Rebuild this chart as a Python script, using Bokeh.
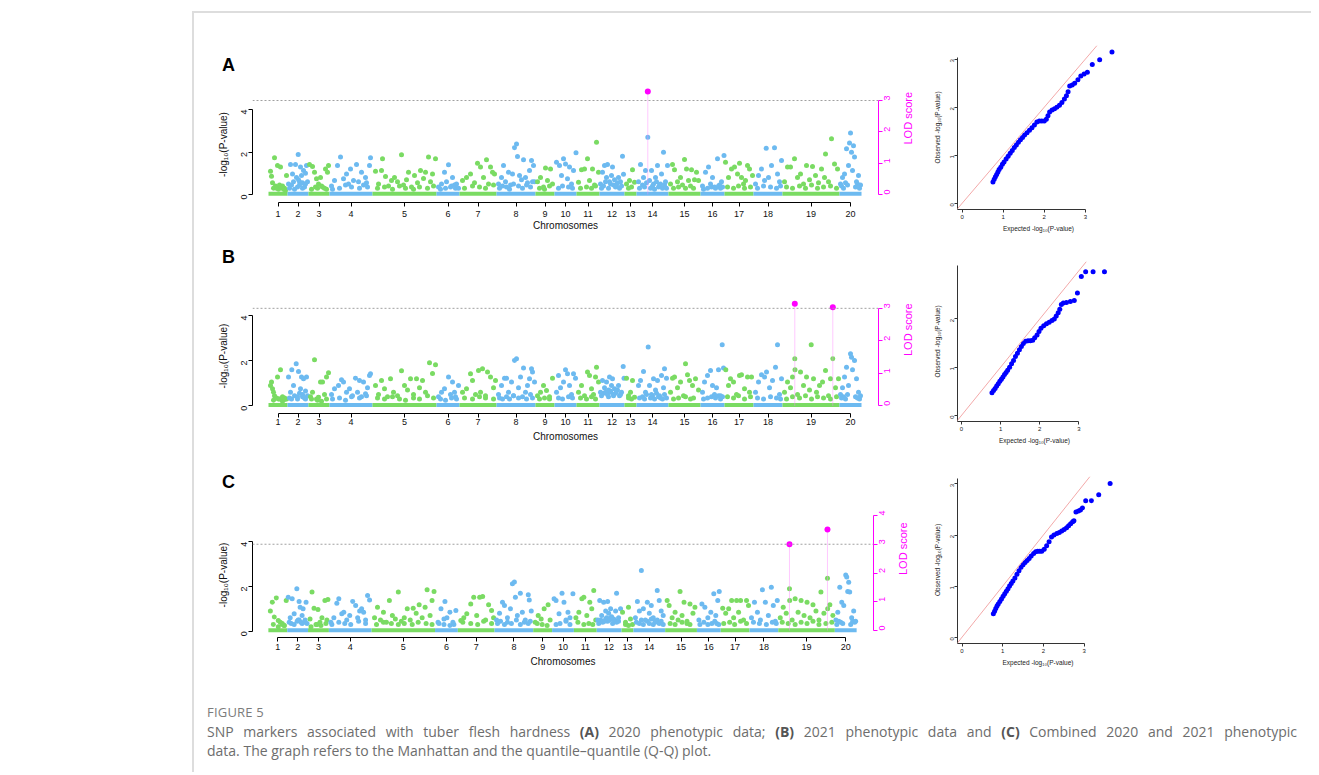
import math
from bokeh.plotting import figure
from bokeh.models import Range1d, LinearAxis, FixedTicker, Span, Slope, Div
from bokeh.layouts import row, column
from bokeh.embed import file_html
from bokeh.resources import INLINE

# ---------------- data ----------------
CHROMOSOMES = [str(i) for i in range(1, 21)]
CHR_LEN = [19, 21, 21, 43, 64, 23, 37, 39, 19, 22, 23, 25, 12, 32, 32, 24, 29, 29, 57, 22]
BAND_VAL = 0.04          # dense cloud of SNPs with -log10(P) ~ 0
THRESHOLD_LOD = 3.0

A_POS = [
    [2, 3, 4, 6, 7, 8, 9, 11, 12, 13, 15, 17, 18],
    [1, 3, 5, 6, 8, 9, 10.7, 11, 12, 13, 14, 15, 16, 17, 18, 19, 20],
    [1, 4, 6, 7, 8, 10, 12, 14, 16, 17, 19, 20],
    [2, 5, 8, 11, 14, 17, 19, 21, 24, 27, 29, 32, 34, 36, 38, 40, 41],
    [3, 6, 9, 10, 13, 16, 19, 22, 25, 29, 31, 34, 36, 39, 42, 45, 48, 51, 53, 56, 58, 60, 63],
    [2, 5, 8, 10, 12, 14, 16, 18, 20, 22],
    [3, 7, 11, 15, 18, 21, 24, 27, 29, 31, 33, 35],
    [2, 5, 7, 9, 12, 14, 16, 18, 20, 21, 23, 25, 27, 29, 31, 33, 35, 37, 38],
    [2, 5, 8, 10, 12, 15, 17],
    [2, 5, 7, 9, 11, 13, 15, 17, 19, 21.5],
    [2, 5, 8, 11, 13, 16, 18, 20, 22],
    [1, 3, 5, 7, 8, 10, 12, 13, 15, 17, 19, 21, 23, 24],
    [2, 5, 8, 10],
    [2, 4, 7, 9, 11.3, 13, 15, 17, 19, 21, 23, 25, 27, 29, 31],
    [2, 4, 6, 9, 12, 14, 16, 18, 20, 23, 26, 28, 30],
    [2, 5, 8, 10, 12, 14, 17, 19, 21, 23.5],
    [1, 4, 7, 10, 13, 15, 17, 19, 21, 23, 25, 28],
    [2, 5, 8, 11, 12.7, 15, 18, 21, 24, 26, 28],
    [2, 5, 8, 12, 15, 18, 21, 24, 27, 30, 33, 36, 39, 42, 43, 46, 49, 52, 55],
    [1, 3, 5, 7, 9, 10, 11, 12, 13, 14, 15, 17, 19, 21],
]
A_VAL = [
    [1.10, 0.86, 0.55, 1.73, 0.40, 0.30, 1.37, 0.45, 1.29, 0.35, 0.25, 0.20, 0.90],
    [0.5, 1.41, 0.97, 0.6, 1.41, 0.8, 1.88, 0.7, 0.45, 1.29, 0.9, 0.55, 1.13, 0.35, 1.0, 1.37, 0.6],
    [1.41, 1.32, 1.05, 0.35, 0.74, 0.5, 0.8, 0.35, 0.3, 1.2, 1.05, 1.37],
    [0.4, 0.66, 1.37, 1.76, 0.74, 0.97, 0.5, 1.2, 0.66, 1.41, 0.6, 1.05, 0.45, 0.8, 0.35, 1.37, 1.73],
    [1.1, 0.5, 1.13, 1.68, 0.85, 0.4, 0.66, 0.8, 0.6, 1.87, 0.45, 0.7, 1.05, 0.35, 0.9, 0.55, 1.13, 0.75, 1.05, 1.76, 0.6, 0.97, 1.68],
    [0.35, 0.5, 1.05, 0.6, 1.4, 0.35, 0.8, 0.45, 0.5, 0.3],
    [0.66, 0.8, 0.97, 0.55, 1.47, 1.29, 0.8, 1.63, 0.5, 1.29, 1.05, 0.97],
    [0.5, 0.8, 1.37, 0.6, 1.05, 0.45, 0.97, 2.2, 2.38, 1.79, 0.9, 0.7, 1.63, 0.8, 0.55, 1.13, 1.6, 1.37, 0.6],
    [0.6, 0.8, 0.35, 1.25, 0.66, 1.2, 0.5],
    [1.52, 1.37, 0.9, 1.68, 1.44, 0.74, 1.29, 0.5, 1.13, 1.96],
    [0.58, 1.16, 1.2, 1.68, 0.66, 1.2, 0.45, 2.46, 1.05],
    [0.5, 1.05, 1.37, 0.8, 1.41, 0.6, 0.9, 1.29, 0.7, 0.45, 0.8, 0.6, 1.8, 0.95],
    [0.5, 0.66, 1.16, 0.58],
    [0.6, 1.41, 0.8, 1.13, 2.7, 0.66, 1.13, 0.5, 0.8, 1.37, 0.45, 0.97, 1.99, 0.6, 1.37],
    [0.5, 1.41, 1.16, 0.6, 0.8, 0.45, 1.65, 1.2, 0.66, 1.16, 0.7, 1.05, 0.66],
    [0.4, 1.05, 1.29, 0.5, 0.8, 0.35, 1.68, 0.45, 0.6, 1.84],
    [1.52, 0.8, 1.2, 1.29, 0.97, 1.47, 0.8, 0.5, 0.66, 1.37, 1.2, 0.9],
    [0.5, 0.9, 1.2, 0.66, 2.18, 0.8, 1.37, 2.2, 0.97, 0.6, 1.6],
    [0.6, 1.29, 1.29, 1.68, 0.8, 0.97, 0.5, 1.37, 0.7, 1.32, 0.9, 0.55, 1.2, 0.8, 1.91, 0.6, 2.62, 1.44, 1.2],
    [0.5, 0.8, 0.97, 2.15, 1.37, 2.42, 2.89, 1.99, 1.13, 2.3, 1.76, 0.6, 0.9, 0.45],
]
A_SIG_CHR = [14]
A_SIG_POS = [11.3]
A_SIG_LOD = [3.29]

B_POS = [
    [2, 3, 4, 5, 6, 8, 9, 11, 12, 14, 16, 18],
    [1, 3, 4.3, 6, 8.7, 10, 11, 13, 14, 15, 16, 17, 18, 19, 20],
    [2, 4, 6, 8, 10, 12, 14, 16, 18, 20],
    [2, 5, 9, 12, 14, 17, 20, 23, 26, 28, 30, 32, 34, 36, 38, 40, 41],
    [3, 6, 9, 12, 15, 18, 21, 25, 29, 32, 35, 38, 41, 44, 47, 50, 53, 57, 60, 63],
    [2, 5, 8, 12, 14, 16, 18, 20, 22],
    [3, 7, 11, 13, 16, 19, 21, 23, 26, 28, 31, 34, 36],
    [2, 5, 8, 10, 12, 15, 17, 18, 20, 22, 24, 27, 29, 31, 33, 35, 36, 38],
    [2, 5, 8, 11, 14, 17],
    [2, 4, 6, 9, 11, 13, 15, 17, 19, 21],
    [2, 5, 8, 11, 13, 15, 17, 19, 20, 22],
    [1, 3, 5, 7, 8, 9, 10, 11, 12, 13, 14, 15, 17, 19, 21, 23.7, 24.5],
    [2, 4, 6, 8, 10],
    [2, 4, 7, 9, 11.7, 13, 15, 17, 19, 21, 23, 25, 27, 28, 30],
    [2, 4, 6, 9, 12, 15, 17, 19, 21, 24, 27, 30],
    [2, 4, 7, 10, 12, 14, 16, 18, 20, 21.7, 23],
    [1.3, 4, 6, 9, 12, 15, 17, 20, 23, 25, 27],
    [2, 5, 8, 11, 13, 16, 19, 22, 24, 26, 28],
    [2, 5, 8, 10, 12.3, 12.5, 15, 18, 21, 24, 27, 28.7, 31, 34, 37, 40, 43, 46, 48, 50.3, 53, 56],
    [1, 3, 5, 7, 9, 11, 12, 13, 15, 17, 19, 21],
]
B_VAL = [
    [0.9, 1.05, 0.75, 0.6, 0.45, 0.35, 1.27, 0.3, 1.6, 0.4, 0.28, 0.3],
    [1.27, 0.6, 1.6, 0.9, 1.86, 0.4, 1.52, 0.75, 1.27, 0.5, 1.2, 0.35, 0.65, 1.27, 0.45],
    [0.4, 0.6, 2.04, 0.3, 0.38, 1.05, 1.05, 0.5, 1.27, 1.46],
    [0.5, 0.75, 0.9, 1.15, 1.05, 0.6, 0.75, 0.45, 1.22, 0.6, 1.12, 0.4, 1.05, 0.53, 0.8, 1.34, 1.42],
    [0.9, 0.5, 1.12, 0.75, 0.4, 1.2, 0.6, 0.45, 1.55, 0.9, 0.7, 1.2, 0.5, 1.2, 0.8, 1.12, 0.6, 1.9, 1.43, 1.82],
    [0.4, 0.6, 0.75, 1.27, 0.5, 1.05, 0.6, 0.3, 0.9],
    [0.6, 0.75, 1.42, 1.12, 0.5, 1.56, 0.6, 1.64, 0.45, 1.49, 1.27, 0.8, 1.12],
    [0.5, 0.9, 1.22, 1.22, 0.6, 1.05, 0.45, 2.0, 2.08, 0.8, 1.27, 1.67, 0.6, 0.9, 1.2, 1.64, 1.49, 1.05],
    [0.45, 0.6, 0.9, 0.68, 0.4, 1.22],
    [0.6, 1.34, 0.8, 1.05, 1.6, 1.42, 0.9, 0.5, 1.42, 1.22],
    [0.6, 0.9, 0.45, 1.49, 1.34, 0.75, 0.5, 1.27, 1.71, 1.05],
    [0.6, 1.12, 0.8, 1.05, 0.5, 0.7, 1.27, 0.6, 0.9, 1.2, 0.45, 0.75, 0.65, 0.9, 0.5, 1.74, 1.22],
    [1.22, 0.45, 0.6, 1.12, 0.38],
    [0.9, 1.12, 1.52, 0.6, 2.6, 0.9, 0.5, 1.2, 0.7, 1.12, 0.45, 1.34, 0.8, 1.64, 1.22],
    [0.6, 1.22, 1.27, 0.8, 1.05, 0.45, 1.86, 1.37, 1.12, 0.9, 1.2, 0.7],
    [0.6, 1.05, 1.34, 1.56, 0.9, 0.5, 0.8, 1.6, 0.45, 2.7, 1.67],
    [1.6, 0.9, 1.2, 1.05, 0.5, 1.34, 1.37, 0.75, 1.27, 0.6, 1.27],
    [0.6, 1.05, 1.37, 1.27, 1.49, 0.8, 1.12, 1.71, 2.7, 0.5, 1.2],
    [0.6, 1.05, 0.8, 1.27, 2.08, 1.6, 0.5, 1.49, 0.9, 1.27, 0.7, 2.7, 1.2, 0.6, 0.9, 1.05, 1.56, 0.45, 1.2, 2.08, 0.8, 1.2],
    [0.5, 0.8, 1.27, 1.71, 0.9, 2.3, 2.15, 1.6, 2.0, 1.2, 0.6, 0.45],
]
B_SIG_CHR = [19, 19]
B_SIG_POS = [12.3, 50.3]
B_SIG_LOD = [3.14, 3.03]

C_POS = [
    [2, 4, 6, 8, 10, 12, 14, 16, 18],
    [1, 3, 5, 7, 9.7, 11, 12, 13, 14, 15, 16, 18, 19, 20],
    [2, 4, 6, 8, 10, 12, 14, 17, 19, 20],
    [2, 5, 8, 10, 13, 15, 18, 21, 24, 27, 29, 31, 33, 35, 37, 39, 41],
    [3, 6, 9, 12, 15, 18, 21, 24, 27, 30, 33, 36, 39, 42, 45, 48, 51, 54, 56, 59, 61, 63],
    [3, 6, 9, 10, 12, 15, 18, 21],
    [3, 6, 9, 13, 16, 19, 22, 25, 28, 31, 34, 36],
    [2, 5, 8, 10, 13, 16, 18, 20, 21, 23, 26, 28, 31, 34, 35, 37],
    [2, 5, 8, 11, 15, 17],
    [2, 4, 7, 10, 12, 14, 16, 18, 21],
    [2, 5, 8, 10, 13, 16, 18, 20, 22],
    [1, 3, 5, 7, 8, 9, 10, 11, 12, 13, 14, 15, 17, 19, 20, 22, 24],
    [1, 4, 7, 9, 11],
    [2, 4, 6, 8, 10, 12, 14, 16, 18, 20, 22, 24, 26, 28, 30],
    [2, 4, 7, 10, 13, 15, 17, 19, 22, 25, 28, 30],
    [2, 5, 8, 11, 14, 17, 19, 21, 22.5],
    [2, 5, 8, 11, 13, 16, 18, 20, 23, 26, 28],
    [2, 5, 8, 11, 13, 16, 19, 22, 24, 26, 28],
    [2, 5, 8, 11.3, 11.5, 14, 17, 20, 23, 26, 29, 32, 35, 38, 41, 43, 46, 49.6, 49.8, 52, 55],
    [1, 3, 5, 7, 9, 11, 12, 13, 14, 15, 17, 19, 21],
]
C_VAL = [
    [0.9, 1.3, 0.63, 1.48, 0.48, 0.4, 0.3, 0.25, 1.37],
    [1.52, 0.6, 1.45, 0.78, 1.9, 0.5, 1.33, 1.07, 0.4, 0.7, 1.0, 0.5, 1.3, 0.35],
    [0.55, 1.75, 1.03, 0.3, 0.97, 0.4, 0.6, 1.37, 0.5, 1.42],
    [0.4, 0.6, 1.25, 1.45, 0.78, 0.85, 0.5, 0.7, 1.33, 1.15, 0.6, 0.9, 1.0, 0.85, 0.5, 1.6, 1.4],
    [0.6, 1.07, 0.5, 0.85, 0.4, 1.37, 0.7, 0.55, 1.75, 0.45, 0.6, 1.0, 0.5, 1.03, 0.8, 1.18, 0.6, 1.07, 1.85, 0.7, 1.37, 1.78],
    [0.4, 1.0, 0.55, 1.33, 0.6, 0.85, 0.4, 0.93],
    [0.48, 0.6, 0.78, 1.22, 1.52, 0.7, 1.52, 1.55, 0.5, 1.18, 0.93, 0.6],
    [0.5, 0.8, 1.3, 1.15, 0.6, 1.0, 2.12, 2.2, 1.52, 0.7, 1.7, 0.85, 0.5, 1.63, 1.4, 0.9],
    [0.4, 0.7, 0.55, 1.0, 1.18, 0.5],
    [1.45, 1.37, 0.78, 1.7, 1.3, 0.5, 0.85, 0.6, 1.67],
    [0.6, 0.85, 1.45, 1.52, 0.7, 1.3, 1.0, 1.82, 0.5],
    [0.5, 1.37, 0.7, 1.3, 0.45, 0.9, 0.6, 1.33, 0.8, 0.5, 1.0, 0.65, 0.55, 0.9, 1.7, 0.6, 1.0],
    [0.85, 0.4, 1.07, 0.55, 0.3],
    [0.6, 1.33, 0.9, 2.72, 1.0, 0.5, 1.3, 0.8, 1.15, 0.6, 0.45, 1.82, 1.37, 0.9, 0.7],
    [1.37, 1.15, 0.6, 0.85, 0.5, 1.78, 0.7, 1.3, 0.45, 1.22, 0.8, 1.07],
    [0.5, 1.22, 1.07, 0.6, 0.85, 1.67, 0.7, 1.37, 1.78],
    [1.03, 0.8, 1.0, 1.37, 0.6, 1.37, 0.85, 1.37, 0.5, 1.37, 1.15],
    [0.6, 1.3, 0.85, 0.5, 1.85, 1.3, 0.7, 1.97, 1.15, 0.45, 1.37],
    [0.6, 1.07, 0.8, 1.9, 1.37, 0.5, 1.45, 0.85, 1.37, 0.7, 1.3, 0.6, 1.18, 0.9, 0.5, 1.75, 0.8, 2.37, 1.0, 1.18, 0.7],
    [0.5, 0.85, 1.97, 1.3, 1.15, 2.52, 2.42, 1.78, 2.19, 1.75, 0.6, 0.9, 0.45],
]
C_SIG_CHR = [19, 19]
C_SIG_POS = [11.3, 49.6]
C_SIG_LOD = [3.0, 3.51]

# low-lying SNPs (same markers in every panel), per chromosome
LOW_POS = [
    [5, 10, 14, 16],
    [2, 4, 7, 10, 12, 15, 18],
    [3, 9, 13, 18],
    [3, 10, 16, 22, 30, 37],
    [5, 12, 20, 27, 33, 41, 47, 55, 61],
    [4, 9, 15, 19],
    [5, 13, 20, 26, 34],
    [3, 6, 10, 13, 17, 22, 26, 30, 34, 36],
    [4, 9, 14],
    [4, 8, 14, 18],
    [4, 10, 15, 19],
    [2, 4, 6, 9, 11, 14, 16, 18, 20, 22],
    [4, 7],
    [3, 6, 8, 10, 14, 16, 18, 20, 22, 24, 26, 28, 30],
    [5, 10, 17, 22, 25],
    [3, 7, 11, 15, 18, 20, 22],
    [3, 9, 14, 20, 26],
    [4, 10, 17, 23, 27],
    [4, 10, 17, 23, 29, 35, 41, 48, 54],
    [2, 4, 6, 8, 16, 18, 20],
]
A_LOW_VAL = [
    [0.3, 0.25, 0.4, 0.3],
    [0.3, 0.45, 0.25, 0.35, 0.6, 0.3, 0.5],
    [0.25, 0.3, 0.4, 0.25],
    [0.25, 0.3, 0.45, 0.35, 0.3, 0.55],
    [0.3, 0.35, 0.25, 0.4, 0.3, 0.25, 0.35, 0.3, 0.4],
    [0.25, 0.3, 0.4, 0.3],
    [0.3, 0.4, 0.35, 0.3, 0.45],
    [0.3, 0.4, 0.35, 0.25, 0.5, 0.4, 0.3, 0.45, 0.35, 0.6],
    [0.3, 0.25, 0.4],
    [0.3, 0.4, 0.35, 0.3],
    [0.3, 0.35, 0.3, 0.4],
    [0.3, 0.4, 0.6, 0.3, 0.5, 0.45, 0.35, 0.55, 0.3, 0.4],
    [0.3, 0.35],
    [0.3, 0.45, 0.35, 0.55, 0.3, 0.4, 0.25, 0.6, 0.35, 0.5, 0.3, 0.45, 0.3],
    [0.3, 0.35, 0.3, 0.4, 0.3],
    [0.25, 0.3, 0.35, 0.3, 0.4, 0.3, 0.35],
    [0.35, 0.3, 0.4, 0.3, 0.35],
    [0.3, 0.4, 0.35, 0.3, 0.4],
    [0.35, 0.3, 0.4, 0.3, 0.45, 0.3, 0.35, 0.4, 0.3],
    [0.4, 0.3, 0.55, 0.45, 0.35, 0.5, 0.3],
]
B_LOW_VAL = [
    [0.25, 0.3, 0.2, 0.35],
    [0.35, 0.3, 0.45, 0.3, 0.55, 0.4, 0.3],
    [0.3, 0.25, 0.2, 0.3],
    [0.3, 0.35, 0.25, 0.4, 0.35, 0.45],
    [0.35, 0.3, 0.4, 0.3, 0.25, 0.35, 0.3, 0.45, 0.35],
    [0.3, 0.25, 0.35, 0.4],
    [0.35, 0.3, 0.4, 0.35, 0.3],
    [0.35, 0.3, 0.4, 0.3, 0.45, 0.35, 0.4, 0.3, 0.5, 0.35],
    [0.3, 0.35, 0.3],
    [0.35, 0.3, 0.4, 0.35],
    [0.35, 0.3, 0.4, 0.3],
    [0.45, 0.55, 0.6, 0.4, 0.65, 0.5, 0.55, 0.7, 0.45, 0.6],
    [0.35, 0.3],
    [0.35, 0.4, 0.3, 0.5, 0.35, 0.45, 0.3, 0.55, 0.4, 0.35, 0.3, 0.5, 0.35],
    [0.3, 0.35, 0.4, 0.3, 0.35],
    [0.3, 0.35, 0.4, 0.35, 0.45, 0.3, 0.4],
    [0.4, 0.35, 0.45, 0.3, 0.4],
    [0.35, 0.3, 0.4, 0.35, 0.3],
    [0.3, 0.4, 0.35, 0.45, 0.3, 0.4, 0.35, 0.3, 0.4],
    [0.35, 0.4, 0.3, 0.5, 0.4, 0.35, 0.3],
]
C_LOW_VAL = [
    [0.3, 0.2, 0.35, 0.25],
    [0.4, 0.35, 0.3, 0.45, 0.5, 0.35, 0.4],
    [0.2, 0.3, 0.25, 0.35],
    [0.3, 0.4, 0.35, 0.3, 0.45, 0.35],
    [0.3, 0.4, 0.35, 0.3, 0.35, 0.3, 0.4, 0.35, 0.3],
    [0.35, 0.3, 0.25, 0.3],
    [0.4, 0.35, 0.3, 0.45, 0.35],
    [0.35, 0.45, 0.3, 0.4, 0.35, 0.5, 0.3, 0.4, 0.35, 0.45],
    [0.35, 0.3, 0.25],
    [0.3, 0.35, 0.45, 0.3],
    [0.4, 0.3, 0.35, 0.3],
    [0.35, 0.5, 0.4, 0.55, 0.45, 0.6, 0.35, 0.5, 0.4, 0.45],
    [0.3, 0.25],
    [0.4, 0.35, 0.5, 0.3, 0.45, 0.35, 0.55, 0.3, 0.4, 0.5, 0.35, 0.45, 0.3],
    [0.35, 0.3, 0.4, 0.35, 0.3],
    [0.3, 0.4, 0.3, 0.35, 0.45, 0.35, 0.3],
    [0.35, 0.4, 0.3, 0.45, 0.35],
    [0.4, 0.35, 0.3, 0.4, 0.35],
    [0.4, 0.35, 0.3, 0.4, 0.35, 0.45, 0.3, 0.35, 0.4],
    [0.3, 0.45, 0.4, 0.35, 0.3, 0.45, 0.4],
]

QQA_EXP = [0.75, 0.78, 0.81, 0.84, 0.87, 0.90, 0.94, 0.98, 1.02, 1.07, 1.12, 1.17, 1.22, 1.27, 1.32, 1.37,
           1.42, 1.47, 1.52, 1.58, 1.64, 1.70, 1.76, 1.82, 1.88, 1.94, 2.00, 2.05, 2.09, 2.13, 2.19, 2.25,
           2.31, 2.37, 2.43, 2.49, 2.54, 2.58, 2.62, 2.68, 2.74, 2.82, 2.89, 2.97, 3.05, 3.17, 3.35, 3.65]
QQA_OBS = [0.44, 0.50, 0.55, 0.60, 0.65, 0.70, 0.75, 0.81, 0.86, 0.92, 0.98, 1.04, 1.10, 1.16, 1.21, 1.27,
           1.32, 1.37, 1.42, 1.47, 1.52, 1.57, 1.63, 1.69, 1.71, 1.71, 1.71, 1.75, 1.82, 1.90, 1.94, 1.97,
           2.00, 2.04, 2.10, 2.17, 2.24, 2.32, 2.44, 2.46, 2.50, 2.57, 2.65, 2.69, 2.73, 2.89, 2.99, 3.15]
QQB_EXP = [0.78, 0.82, 0.86, 0.90, 0.94, 0.98, 1.02, 1.06, 1.10, 1.14, 1.18, 1.23, 1.28, 1.33, 1.38, 1.43,
           1.48, 1.53, 1.58, 1.64, 1.70, 1.76, 1.82, 1.87, 1.93, 1.98, 2.03, 2.10, 2.17, 2.24, 2.31, 2.37,
           2.42, 2.47, 2.51, 2.55, 2.60, 2.68, 2.78, 2.88, 2.96, 3.06, 3.17, 3.36, 3.65]
QQB_OBS = [0.47, 0.52, 0.56, 0.61, 0.66, 0.71, 0.75, 0.80, 0.85, 0.89, 0.94, 1.00, 1.07, 1.14, 1.22, 1.29,
           1.36, 1.43, 1.49, 1.54, 1.55, 1.55, 1.56, 1.61, 1.67, 1.74, 1.81, 1.86, 1.90, 1.93, 1.97, 2.00,
           2.06, 2.13, 2.20, 2.30, 2.33, 2.34, 2.36, 2.38, 2.54, 2.88, 2.98, 2.98, 2.98]
QQC_EXP = [0.77, 0.80, 0.83, 0.86, 0.89, 0.93, 0.97, 1.01, 1.05, 1.09, 1.13, 1.17, 1.21, 1.25, 1.30, 1.35,
           1.40, 1.45, 1.50, 1.55, 1.60, 1.65, 1.70, 1.76, 1.81, 1.86, 1.91, 1.96, 2.02, 2.08, 2.14, 2.20,
           2.26, 2.33, 2.39, 2.45, 2.51, 2.57, 2.62, 2.67, 2.72, 2.75, 2.80, 2.86, 2.91, 2.96, 3.04, 3.18, 3.36, 3.64]
QQC_OBS = [0.46, 0.51, 0.56, 0.61, 0.65, 0.70, 0.75, 0.80, 0.85, 0.90, 0.95, 1.00, 1.05, 1.10, 1.16, 1.23,
           1.30, 1.37, 1.42, 1.46, 1.50, 1.54, 1.59, 1.64, 1.67, 1.68, 1.68, 1.68, 1.72, 1.79, 1.87, 1.96,
           2.00, 2.03, 2.05, 2.08, 2.11, 2.14, 2.18, 2.22, 2.26, 2.28, 2.45, 2.47, 2.49, 2.53, 2.67, 2.67, 2.79, 3.01]

# ---------------- style ----------------
FONT = "Liberation Sans"
GREEN = "#7ADB63"
BLUE = "#6DBAF0"
MAGENTA = "#FF00FF"

CHR_START = []
_acc = 0
for _L in CHR_LEN:
    CHR_START.append(_acc)
    _acc += _L
CHR_END = [s + L for s, L in zip(CHR_START, CHR_LEN)]
CHR_MID = [s + L / 2 for s, L in zip(CHR_START, CHR_LEN)]
CHR_COL = [GREEN if i % 2 == 0 else BLUE for i in range(len(CHR_LEN))]


def style_axis(ax, color="#000000", label_size="9px", axis_size="10px", tick_out=4,
               standoff=4, label_standoff=5):
    ax.axis_line_color = color
    ax.major_tick_line_color = color
    ax.minor_tick_line_color = None
    ax.major_tick_in = 0
    ax.major_tick_out = tick_out
    ax.major_label_text_color = "#111111" if color == "#000000" else color
    ax.major_label_text_font = FONT
    ax.major_label_text_font_size = label_size
    ax.major_label_standoff = standoff
    ax.axis_label_text_font = FONT
    ax.axis_label_text_font_size = axis_size
    ax.axis_label_text_font_style = "normal"
    ax.axis_label_text_color = "#111111" if color == "#000000" else color
    ax.axis_label_standoff = label_standoff


def panel_letter(letter, height, pad_top):
    return Div(width=736, height=height, margin=0, text=(
        f'<div style="font-family:\'Liberation Sans\',Arial,sans-serif;font-weight:bold;font-size:18px;'
        f'line-height:18px;color:#000;padding:{pad_top}px 0 0 28px;">{letter}</div>'))


def manhattan(pos, val, low_val, sig_chr, sig_pos, sig_lod, g):
    p = figure(width=736, height=g["h"], x_range=Range1d(-16, 610), y_range=Range1d(*g["yr"]),
               min_border_left=58, min_border_right=g["mr"], min_border_top=g["mt"],
               min_border_bottom=g["mb"], output_backend="svg", toolbar_location=None)
    p.outline_line_color = None
    p.grid.visible = False
    p.extra_y_ranges = {"lod": Range1d(*g["lr"])}

    p.add_layout(Span(location=THRESHOLD_LOD, dimension="width", y_range_name="lod",
                      line_color="#a0a0a0", line_dash="2 2", line_width=1))

    p.segment(x0=CHR_START, y0=[BAND_VAL] * len(CHR_LEN), x1=CHR_END, y1=[BAND_VAL] * len(CHR_LEN),
              line_color=CHR_COL, line_width=4)

    xs, ys, cs = [], [], []
    for i in range(len(CHR_LEN)):
        for ps, v in list(zip(LOW_POS[i], low_val[i])) + list(zip(pos[i], val[i])):
            xs.append(CHR_START[i] + ps)
            ys.append(v)
            cs.append(CHR_COL[i])
    p.scatter(xs, ys, size=5, fill_color=cs, line_color=None)

    sx = [CHR_START[c - 1] + ps for c, ps in zip(sig_chr, sig_pos)]
    p.segment(x0=sx, y0=[0] * len(sx), x1=sx, y1=sig_lod, y_range_name="lod",
              line_color="#FF88FF", line_alpha=0.45, line_width=1)
    p.scatter(sx, sig_lod, y_range_name="lod", size=6, fill_color=MAGENTA, line_color=None)

    xa = p.xaxis[0]
    xa.ticker = FixedTicker(ticks=CHR_MID)
    xa.major_label_overrides = {m: c for m, c in zip(CHR_MID, CHROMOSOMES)}
    xa.bounds = (CHR_MID[0], CHR_MID[-1])
    xa.axis_label = "Chromosomes"
    style_axis(xa, standoff=g["xs"], label_standoff=g["xls"])

    ya = p.yaxis[0]
    ya.ticker = FixedTicker(ticks=[0, 2, 4])
    ya.bounds = (0, 4)
    ya.axis_label = "-log\u2081\u2080(P-value)"
    ya.major_label_orientation = math.pi / 2
    style_axis(ya, standoff=4, label_standoff=7)

    lod_ticks = list(range(0, g["lmax"] + 1))
    la = LinearAxis(y_range_name="lod", ticker=FixedTicker(ticks=lod_ticks), bounds=(0, g["lmax"]),
                    axis_label="LOD score")
    la.major_label_orientation = math.pi / 2
    style_axis(la, color=MAGENTA, standoff=5, label_standoff=11, axis_size="11px")
    try:
        la.axis_label_orientation = math.pi / 2
    except Exception:
        pass
    p.add_layout(la, "right")
    return p


def qq(exp, obs, g):
    p = figure(width=215, height=g["h"], x_range=Range1d(*g["xr"]), y_range=Range1d(*g["yr"]),
               min_border_left=g["ml"], min_border_right=g["mr"], min_border_top=g["mt"],
               min_border_bottom=g["mb"], output_backend="svg", toolbar_location=None)
    p.outline_line_color = None
    p.grid.visible = False
    p.add_layout(Slope(gradient=1, y_intercept=0, line_color="#F3A9A9", line_width=1))
    p.scatter(exp, obs, size=5, fill_color="#0000FF", line_color=None)

    xa = p.xaxis[0]
    xa.ticker = FixedTicker(ticks=[0, 1, 2, 3])
    xa.bounds = (g["xr"][0], 3)
    xa.axis_label = "Expected -log\u2081\u2080(P-value)"
    style_axis(xa, color="#333333", label_size="6px", axis_size="6.5px", tick_out=3, standoff=2,
               label_standoff=3)
    xa.major_label_text_color = "#222222"
    xa.axis_label_text_color = "#222222"

    ya = p.yaxis[0]
    ya.ticker = FixedTicker(ticks=g["yt"])
    ya.bounds = (g["yr"][0], g["ytop"])
    ya.axis_label = "Observed -log\u2081\u2080(P-value)"
    ya.major_label_orientation = math.pi / 2
    style_axis(ya, color="#333333", label_size="6px", axis_size="6.5px", tick_out=3, standoff=2,
               label_standoff=5)
    ya.major_label_text_color = "#222222"
    ya.axis_label_text_color = "#222222"
    return p


# row A: page y 13..240 ; row B: 240..455 ; row C: 455..680
mA = manhattan(A_POS, A_VAL, A_LOW_VAL, A_SIG_CHR, A_SIG_POS, A_SIG_LOD,
               dict(h=165, mt=11, mb=38, mr=52, yr=(-0.376, 5.082), lr=(-0.255, 3.447), lmax=3,
                    xs=4, xls=0))
mB = manhattan(B_POS, B_VAL, B_LOW_VAL, B_SIG_CHR, B_SIG_POS, B_SIG_LOD,
               dict(h=185, mt=28, mb=42, mr=52, yr=(-0.341, 4.748), lr=(-0.237, 3.302), lmax=3,
                    xs=1, xls=3))
mC = manhattan(C_POS, C_VAL, C_LOW_VAL, C_SIG_CHR, C_SIG_POS, C_SIG_LOD,
               dict(h=185, mt=17, mb=43, mr=57, yr=(-0.282, 5.311), lr=(-0.243, 4.104), lmax=4,
                    xs=2, xls=3))

qA = qq(QQA_EXP, QQA_OBS, dict(h=227, ml=26, mr=26, mt=32, mb=31, xr=(-0.114, 3.833),
                               yr=(-0.131, 3.285), yt=[0, 1, 2, 3], ytop=3.04))
qB = qq(QQB_EXP, QQB_OBS, dict(h=215, ml=26, mr=34, mt=21, mb=34, xr=(-0.10, 3.83),
                               yr=(-0.124, 3.19), yt=[0, 1, 2], ytop=3.10))
qC = qq(QQC_EXP, QQC_OBS, dict(h=225, ml=21, mr=27, mt=21, mb=37, xr=(-0.111, 3.846),
                               yr=(-0.123, 3.145), yt=[0, 1, 2, 3], ytop=3.10))

caption = Div(width=1117, height=92, margin=0, text=(
    '<div style="font-family:\'Open Sans\',sans-serif;color:#6d6d6d;padding:24px 0 0 13px;width:1090px;">'
    '<div style="font-size:13px;line-height:17px;color:#7c7c7c;letter-spacing:0.2px;">FIGURE 5</div>'
    '<div style="font-size:14px;line-height:19px;margin-top:1px;text-align:justify;text-align-last:justify;width:1090px;">'
    'SNP markers associated with tuber flesh hardness <b style="color:#555">(A)</b> 2020 phenotypic data; '
    '<b style="color:#555">(B)</b> 2021 phenotypic data and <b style="color:#555">(C)</b> Combined 2020 and 2021 phenotypic</div>'
    '<div style="font-size:14px;line-height:19px;white-space:nowrap;">'
    'data. The graph refers to the Manhattan and the quantile\u2013quantile (Q-Q) plot.</div></div>'))

layout = column(
    row(column(panel_letter("A", 62, 43), mA, spacing=0), qA, spacing=0),
    row(column(panel_letter("B", 30, 8), mB, spacing=0), qB, spacing=0),
    row(column(panel_letter("C", 40, 18), mC, spacing=0), qC, spacing=0),
    caption, spacing=0,
    styles={"border-top": "2px solid #dddddd", "border-left": "2px solid #dddddd",
            "margin-left": "192px", "margin-top": "11px"})

open("out.html", "w").write(file_html(layout, INLINE))
